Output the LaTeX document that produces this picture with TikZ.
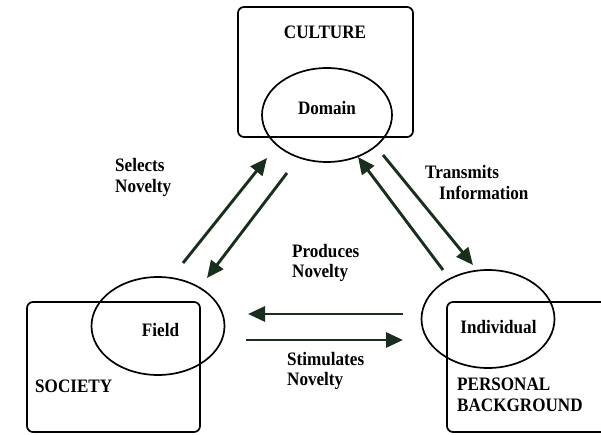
\documentclass[tikz,border=0pt]{standalone}
\usepackage{fontspec}
\setmainfont[FakeStretch=0.9]{Liberation Serif}
\usetikzlibrary{shapes.geometric, arrows.meta}
\definecolor{arrowgreen}{RGB}{26,46,30}

\begin{document}
\begin{tikzpicture}[x=1pt,y=1pt]

        \tikzstyle{box} = [draw, line width=1.7pt, rounded corners=6pt];
        \tikzstyle{ringnode} = [draw, ellipse, line width=1.7pt];
        \tikzstyle{txt} = [inner sep=0, font=\fontsize{19}{20.5}\selectfont\bfseries];
        \tikzstyle{arrow} = [line width=2.9pt, arrowgreen, -{Triangle[length=17pt,width=15pt]}];

        \clip (0,0) rectangle (601,435);

        \node[box, minimum width=175pt, minimum height=130pt] (CultureBox) at (325.5,363) {};
        \node[box, minimum width=173pt, minimum height=130pt] (SocietyBox) at (113.5,68) {};
        \node[box, minimum width=200pt, minimum height=130pt] (PersonalBox) at (547,68) {};

        \node[ringnode, minimum width=130pt, minimum height=94pt] (Domain) at (327,320) {};
        \node[ringnode, minimum width=133pt, minimum height=98pt] (Field) at (158,109) {};
        \node[ringnode, minimum width=133pt, minimum height=98pt] (Individual) at (488,116) {};

        \node[txt] (CultureT) at (325,403) {CULTURE};
        \node[txt] (DomainT) at ([yshift=7pt]Domain) {Domain};
        \node[txt] (FieldT) at ([xshift=2.5pt,yshift=-4pt]Field) {Field};
        \node[txt] (IndividualT) at ([xshift=10.5pt,yshift=-8pt]Individual) {Individual};
        \node[txt, anchor=west] (SocietyT) at (35,49) {SOCIETY};
        \node[txt, anchor=west, align=left] (PersonalT) at (457,40) {PERSONAL\\BACKGROUND};

        \coordinate (SelA) at (183,172);
        \coordinate (SelB) at (267,277);
        \coordinate (DownA) at (287,262);
        \coordinate (DownB) at (207,157);
        \coordinate (UpA) at (443,165);
        \coordinate (UpB) at (358,278);
        \coordinate (TraA) at (383,280);
        \coordinate (TraB) at (473,170);
        \coordinate (ProA) at (403,121);
        \coordinate (ProB) at (248,121);
        \coordinate (StiA) at (246,95);
        \coordinate (StiB) at (403,95);

        \draw [arrow] (SelA) -- (SelB);
        \draw [arrow] (DownA) -- (DownB);
        \draw [arrow] (UpA) -- (UpB);
        \draw [arrow] (TraA) -- (TraB);
        \draw [arrow] (ProA) -- (ProB);
        \draw [arrow] (StiA) -- (StiB);

        \node[txt, anchor=west, align=left] (SelectsT) at (115,257.5) {Selects\\Novelty};
        \node[txt, anchor=west, align=left] (TransmitsT) at (425,252.5) {Transmits\\\hspace*{14pt}Information};
        \node[txt, anchor=west, align=left] (ProducesT) at (292,172) {Produces\\Novelty};
        \node[txt, anchor=west, align=left] (StimulatesT) at (287,64) {Stimulates\\Novelty};

    \end{tikzpicture}
\end{document}
